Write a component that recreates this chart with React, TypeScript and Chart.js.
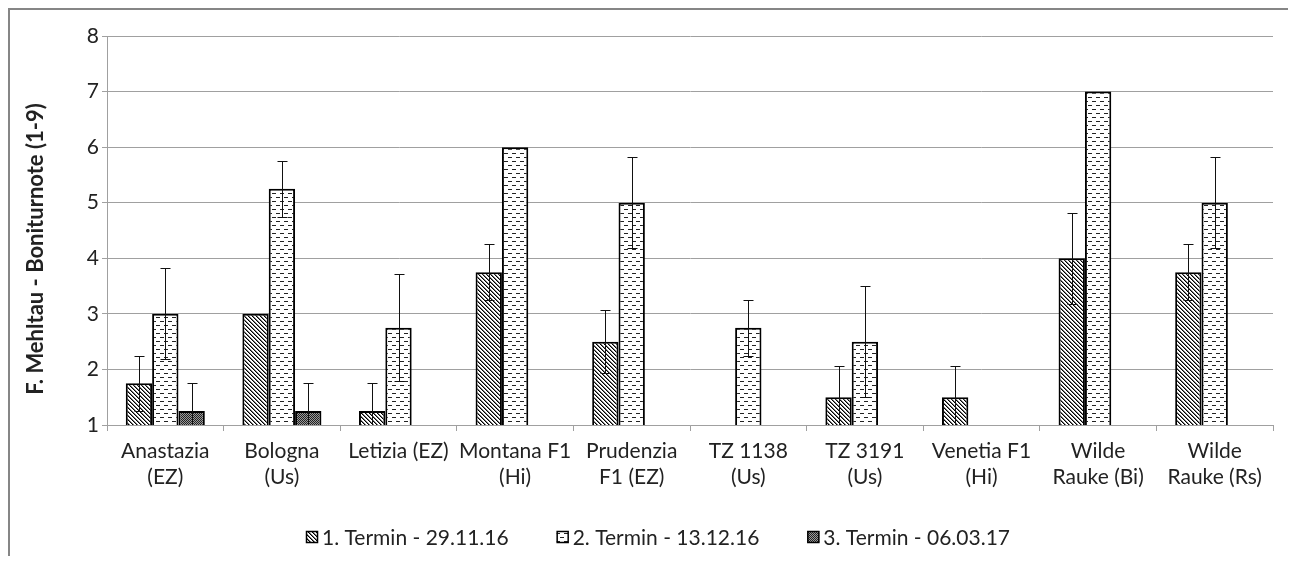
import React, { useEffect, useRef } from "react";
import { Chart, registerables } from "chart.js";

Chart.register(...registerables);

const categories: (string | string[])[] = [
  ["Anastazia", "(EZ)"],
  ["Bologna", "(Us)"],
  "Letizia (EZ)",
  ["Montana F1", "(Hi)"],
  ["Prudenzia", "F1 (EZ)"],
  ["TZ 1138", "(Us)"],
  ["TZ 3191", "(Us)"],
  ["Venetia F1", "(Hi)"],
  ["Wilde", "Rauke (Bi)"],
  ["Wilde", "Rauke (Rs)"],
];

const seriesNames = ["1. Termin - 29.11.16", "2. Termin - 13.12.16", "3. Termin - 06.03.17"];

const termin1 = [1.75, 3, 1.25, 3.75, 2.5, null, 1.5, 1.5, 4, 3.75];
const termin2 = [3, 5.25, 2.75, 6, 5, 2.75, 2.5, null, 7, 5];
const termin3 = [1.25, 1.25, null, null, null, null, null, null, null, null];

const err1 = [0.5, null, 0.5, 0.5, 0.57, null, 0.57, 0.57, 0.82, 0.5];
const err2 = [0.82, 0.5, 0.96, null, 0.82, 0.5, 1.0, null, null, 0.82];
const err3 = [0.5, 0.5, null, null, null, null, null, null, null, null];

const yTitle = "F. Mehltau - Boniturnote (1-9)";

const values = [termin1, termin2, termin3];
const errors = [err1, err2, err3];

const FONT = "Lato";

function makeTile(w: number, h: number, draw: (g: CanvasRenderingContext2D) => void) {
  const c = document.createElement("canvas");
  c.width = w;
  c.height = h;
  const g = c.getContext("2d")!;
  draw(g);
  return c;
}

export default function App() {
  const ref = useRef<HTMLCanvasElement>(null);

  useEffect(() => {
    const canvas = ref.current!;
    const ctx = canvas.getContext("2d")!;

    const diagTile = makeTile(4, 4, (g) => {
      g.fillStyle = "#fff";
      g.fillRect(0, 0, 4, 4);
      for (let i = 0; i < 4; i++) {
        g.fillStyle = "#000";
        g.fillRect(i, i, 1, 1);
        g.fillStyle = "#777";
        g.fillRect((i + 1) % 4, i, 1, 1);
      }
    });
    const dashTile = makeTile(8, 8, (g) => {
      g.fillStyle = "#fff";
      g.fillRect(0, 0, 8, 8);
      g.fillStyle = "#222";
      g.fillRect(0, 1, 4, 1);
      g.fillRect(4, 5, 4, 1);
    });
    const checkTile = makeTile(4, 4, (g) => {
      for (let x = 0; x < 4; x++)
        for (let y = 0; y < 4; y++) {
          g.fillStyle = (x + y) % 2 === 0 ? "#222" : "#999";
          g.fillRect(x, y, 1, 1);
        }
    });
    const patterns = [
      ctx.createPattern(diagTile, "repeat")!,
      ctx.createPattern(dashTile, "repeat")!,
      ctx.createPattern(checkTile, "repeat")!,
    ];

    const errorBars = {
      id: "errorBars",
      afterDatasetsDraw(chart: any) {
        const c = chart.ctx;
        const ys = chart.scales.y;
        const a = chart.chartArea;
        c.save();
        c.beginPath();
        c.rect(a.left, a.top - 2, a.right - a.left, a.bottom - a.top + 2);
        c.clip();
        c.strokeStyle = "#111";
        c.lineWidth = 1;
        values.forEach((vals, di) => {
          const meta = chart.getDatasetMeta(di);
          vals.forEach((v, i) => {
            const e = errors[di][i];
            if (v == null || e == null) return;
            const bar = meta.data[i];
            const x = Math.round(bar.x) + 0.5;
            const yt = Math.round(ys.getPixelForValue(v + e)) + 0.5;
            const yb = Math.round(ys.getPixelForValue(v - e)) + 0.5;
            c.beginPath();
            c.moveTo(x, yt);
            c.lineTo(x, yb);
            c.moveTo(x - 5, yt);
            c.lineTo(x + 5, yt);
            c.moveTo(x - 5, yb);
            c.lineTo(x + 5, yb);
            c.stroke();
          });
        });
        c.restore();
      },
    };

    const extras = {
      id: "extras",
      afterDraw(chart: any) {
        const c = chart.ctx;
        // y title
        c.save();
        c.translate(28, 241);
        c.rotate(-Math.PI / 2);
        c.font = `bold 22px ${FONT}`;
        c.fillStyle = "#222";
        c.textAlign = "center";
        c.textBaseline = "middle";
        c.fillText(yTitle, 0, 0);
        c.restore();
        // legend
        c.save();
        c.font = `21px ${FONT}`;
        const box = 12;
        const gapText = 4;
        const gapItem = 48;
        const widths = seriesNames.map((s) => c.measureText(s).width);
        const total = widths.reduce((s, w) => s + box + gapText + w, 0) + gapItem * (seriesNames.length - 1);
        let x = 650 - total / 2;
        const yc = 529;
        seriesNames.forEach((name, i) => {
          c.fillStyle = patterns[i];
          c.fillRect(x, yc - box / 2, box, box);
          c.strokeStyle = "#000";
          c.lineWidth = 1.5;
          c.strokeRect(x + 0.5, yc - box / 2 + 0.5, box - 1, box - 1);
          c.fillStyle = "#222";
          c.textAlign = "left";
          c.textBaseline = "middle";
          c.fillText(name, x + box + gapText, yc + 1);
          x += box + gapText + widths[i] + gapItem;
        });
        c.restore();
      },
    };

    const chart = new Chart(ctx, {
      type: "bar",
      data: {
        labels: categories,
        datasets: values.map((vals, i) => ({
          label: seriesNames[i],
          data: vals,
          backgroundColor: patterns[i],
          borderColor: "#000",
          borderWidth: 2,
          borderSkipped: false,
          categoryPercentage: 0.678,
          barPercentage: 1,
        })),
      },
      options: {
        responsive: false,
        animation: false,
        devicePixelRatio: 1,
        layout: { padding: { top: 28, right: 15, left: 0, bottom: 31 } },
        plugins: {
          legend: { display: false },
          tooltip: { enabled: false },
          title: { display: false },
        },
        scales: {
          x: {
            grid: {
              offset: true,
              drawOnChartArea: false,
              drawTicks: true,
              tickLength: 6,
              color: "#a0a0a0",
            },
            border: { color: "#a0a0a0", width: 1 },
            ticks: {
              font: { family: FONT, size: 21, lineHeight: 1.2 },
              color: "#222",
              padding: 8,
              maxRotation: 0,
              autoSkip: false,
            },
            afterFit: (s: any) => {
              s.height = 100;
            },
          },
          y: {
            min: 1,
            max: 8,
            ticks: {
              stepSize: 1,
              font: { family: FONT, size: 21 },
              color: "#222",
              padding: 3,
            },
            grid: { color: "#a0a0a0", tickLength: 5 },
            border: { color: "#a0a0a0" },
            afterFit: (s: any) => {
              s.width = 99;
            },
          },
        },
      } as any,
      plugins: [errorBars, extras],
    });
    return () => chart.destroy();
  }, []);

  return (
    <div style={{ position: "relative", width: 1280, height: 548 }}>
      <div
        style={{
          position: "absolute",
          left: 0,
          top: 0,
          width: 1280,
          height: 548,
          boxSizing: "border-box",
          borderTop: "2px solid #868686",
          borderLeft: "2px solid #868686",
        }}
      />
      <canvas
        ref={ref}
        width={1280}
        height={548}
        style={{ position: "absolute", left: 0, top: 0, width: 1280, height: 548 }}
      />
    </div>
  );
}
